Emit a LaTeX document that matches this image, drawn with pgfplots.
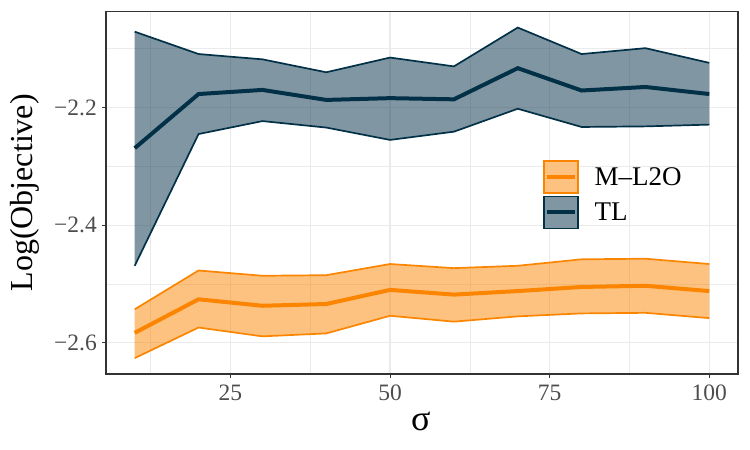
\documentclass[border=0pt]{standalone}
\usepackage{pgfplots}
\pgfplotsset{compat=1.18}
\usepgfplotslibrary{fillbetween}
\usepackage{fontspec}
\setmainfont{Liberation Serif}

\definecolor{navy}{HTML}{023047}
\definecolor{amber}{HTML}{FB8500}
\definecolor{gridgrey}{HTML}{EBEBEB}
\definecolor{framegrey}{HTML}{333333}
\definecolor{ticktext}{HTML}{4D4D4D}

% sigma, lower band, mean, upper band
\pgfplotstableread{
s   lo      mean    hi
10  -2.626  -2.583  -2.543
20  -2.574  -2.526  -2.477
30  -2.589  -2.537  -2.486
40  -2.584  -2.534  -2.485
50  -2.554  -2.510  -2.466
60  -2.564  -2.518  -2.473
70  -2.555  -2.512  -2.469
80  -2.550  -2.505  -2.458
90  -2.549  -2.503  -2.457
100 -2.558  -2.512  -2.466
}\mltwotable

\pgfplotstableread{
s   lo      mean    hi
10  -2.469  -2.269  -2.071
20  -2.245  -2.177  -2.109
30  -2.223  -2.170  -2.118
40  -2.234  -2.187  -2.140
50  -2.255  -2.184  -2.115
60  -2.241  -2.186  -2.130
70  -2.202  -2.133  -2.064
80  -2.233  -2.171  -2.109
90  -2.232  -2.165  -2.099
100 -2.229  -2.177  -2.124
}\tltable

\begin{document}
\begin{tikzpicture}
\begin{axis}[
  at={(106pt,76pt)}, anchor=south west,
  width=632pt, height=362.3pt, scale only axis,
  xmin=5.5, xmax=104.5, ymin=-2.653, ymax=-2.037,
  xtick={25,50,75,100},
  minor xtick={12.5,37.5,62.5,87.5},
  ytick={-2.6,-2.4,-2.2},
  yticklabels={−2.6,−2.4,−2.2},
  minor ytick={-2.5,-2.3,-2.1},
  xtick pos=bottom, ytick pos=left,
  grid=both,
  major grid style={draw=gridgrey, line width=1.2pt},
  minor grid style={draw=gridgrey, line width=0.7pt},
  axis line style={draw=framegrey, line width=1.4pt},
  tick align=outside,
  major tick length=4pt, minor tick length=0pt,
  tick style={draw=framegrey, line width=1.1pt},
  /pgf/number format/assume math mode=true,
  ticklabel style={font=\fontsize{23.5}{26}\selectfont, text=ticktext},
  yticklabel style={inner sep=0pt, xshift=-5pt},
  xticklabel style={inner sep=0pt, yshift=-7pt},
  xlabel={σ},
  ylabel={Log(Objective)},
  xlabel style={at={(axis description cs:0.498,-0.130)}, anchor=center,
                font=\fontsize{36}{40}\selectfont},
  ylabel style={at={(axis description cs:-0.1282,0.5)}, anchor=center,
                font=\fontsize{32}{36}\selectfont},
  legend style={at={(0.6915,0.5907)}, anchor=north west, draw=none,
                fill=none, inner sep=0pt, row sep=2pt, column sep=16pt,
                font=\fontsize{27}{30}\selectfont,
                nodes={inner sep=0pt, anchor=west}},
  legend cell align=left,
]
% M-L2O band and mean
\addplot[forget plot, draw=amber, line width=1.7pt, name path=mu] table[x=s,y=hi] {\mltwotable};
\addplot[forget plot, draw=amber, line width=1.7pt, name path=ml] table[x=s,y=lo] {\mltwotable};
\addplot[forget plot, fill=amber, fill opacity=0.5, draw=none] fill between[of=mu and ml];
\addplot[forget plot, draw=amber, line width=4pt] table[x=s,y=mean] {\mltwotable};
% TL band and mean
\addplot[forget plot, draw=navy, line width=1.7pt, name path=tu] table[x=s,y=hi] {\tltable};
\addplot[forget plot, draw=navy, line width=1.7pt, name path=tlo] table[x=s,y=lo] {\tltable};
\addplot[forget plot, fill=navy, fill opacity=0.5, draw=none] fill between[of=tu and tlo];
\addplot[forget plot, draw=navy, line width=4pt] table[x=s,y=mean] {\tltable};

\addlegendimage{legend image code/.code={
  \draw[draw=amber, line width=1.5pt, fill=amber!50] (0pt,-16pt) rectangle (34pt,16pt);
  \draw[amber, line width=4pt] (3pt,0pt) -- (31pt,0pt);}}
\addlegendentry{M–L2O}
\addlegendimage{legend image code/.code={
  \draw[draw=navy, line width=1.5pt, fill=navy!50] (0pt,-16pt) rectangle (34pt,16pt);
  \draw[navy, line width=4pt] (3pt,0pt) -- (31pt,0pt);}}
\addlegendentry{TL}
\end{axis}
\pgfresetboundingbox
\path[use as bounding box] (0pt,0pt) rectangle (750pt,450pt);
\end{tikzpicture}
\end{document}
